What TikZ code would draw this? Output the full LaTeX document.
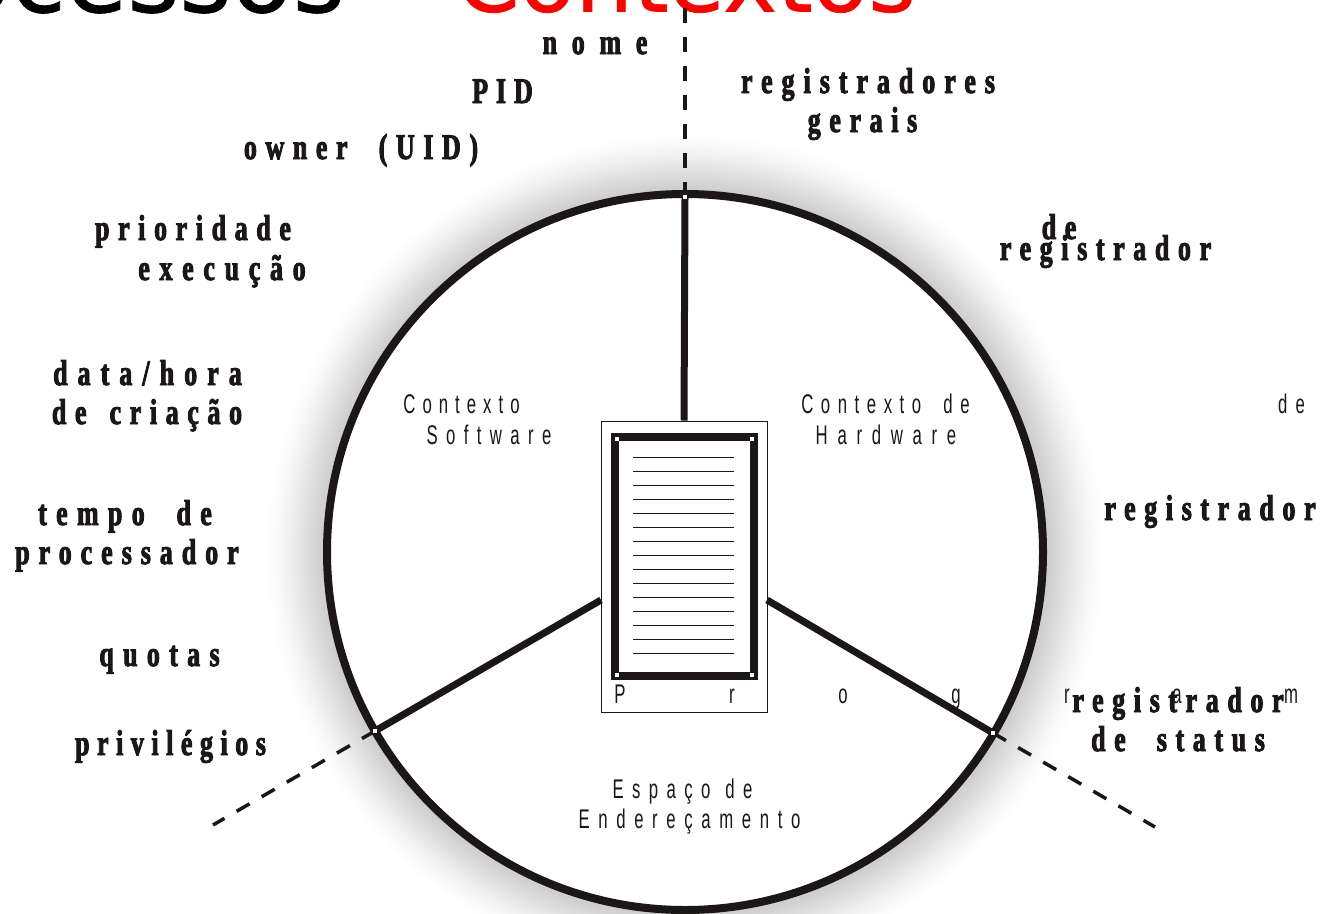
\documentclass[tikz,border=0pt]{standalone}
\usepackage{fontspec}
\newfontfamily\boldf[FakeStretch=0.72,LetterSpace=24,FakeBold=2.5]{Liberation Serif Bold}
\newfontfamily\thinf[FakeStretch=0.62,LetterSpace=31]{Liberation Sans}
\newfontfamily\titlef[FakeBold=0.8]{DejaVu Sans}
\definecolor{ink}{HTML}{1A1716}
\newcommand\wg{\hspace{16pt}}
\newcommand\lsp[1]{\addfontfeature{LetterSpace=#1}}
\pgfdeclareradialshading{halo}{\pgfpointorigin}{color(0bp)=(white);color(21bp)=(white);color(21.5bp)=(black!20);color(22.4bp)=(black!14);color(23.4bp)=(black!7);color(24.3bp)=(black!2);color(25bp)=(white);color(50bp)=(white)}
\tikzset{
 bl/.style={font=\boldf\fontsize{36}{36}\selectfont,text=ink,anchor=base,inner sep=0pt},
 tl/.style={font=\thinf\fontsize{27}{27}\selectfont,text=ink,anchor=base,inner sep=0pt},
 pl/.style={font=\thinf\fontsize{27}{27}\selectfont,text=ink,anchor=base,inner sep=0pt},
 spoke/.style={line width=7pt,draw=ink},
 dashline/.style={draw=ink,line width=3.5pt,dash pattern=on 15pt off 14pt},
 dot/.style={fill=white,draw=none,minimum size=5pt,inner sep=0pt,rectangle},
 rule/.style={draw=ink,line width=1pt},
}
\begin{document}
\begin{tikzpicture}[x=1pt,y=-1pt]
\useasboundingbox (0,0) rectangle (1321,913);
\clip (0,0) rectangle (1321,913);
\shade[shading=halo] (685,552) circle (420);
\coordinate (c) at (685,552);
% title
\node[font=\titlef\fontsize{91}{91}\selectfont,text=red,anchor=base,inner sep=0pt] (t2) at (686,11.5) {Contextos};
\node[font=\titlef\fontsize{100}{100}\selectfont,text=black,anchor=base east,inner sep=0pt] (t1) at (345,12) {Processos};
% dashed
\coordinate (jt) at (685,197);
\coordinate (jl) at (375,731);
\coordinate (jr) at (993,733);
\coordinate (et) at (685,8);
\coordinate (el) at (213,825);
\coordinate (er) at (1155,827);
\draw[dashline,line width=4pt] (jt) -- (et);
\draw[dashline] (jl) -- (el);
\draw[dashline] (jr) -- (er);
% circle
\node[draw=ink,line width=8pt,circle,minimum size=716pt,inner sep=0pt,fill=white] (wheel) at (c) {};
% hub
\node[draw=ink,line width=1pt,fill=white,minimum width=166pt,minimum height=291pt,inner sep=0pt] (prog) at (684,566.5) {};
\node[draw=ink,line width=8pt,minimum width=139pt,minimum height=239pt,inner sep=0pt] (page) at (684.5,556.5) {};
\foreach \i in {0,...,14}{\draw[rule] (633,457.3+14.03*\i) -- (734,457.3+14.03*\i);}
\node[dot,minimum size=4.5pt] (c1) at (617,439) {};
\node[dot,minimum size=4.5pt] (c2) at (752,439) {};
\node[dot,minimum size=4.5pt] (c3) at (617,675) {};
\node[dot,minimum size=4.5pt] (c4) at (752,675) {};
% spokes
\coordinate (sl) at (601,600);
\coordinate (sr) at (767,600);
\draw[spoke] (jt) -- (prog.north);
\draw[spoke] (jl) -- (sl);
\draw[spoke] (jr) -- (sr);
\node[dot,minimum size=4pt] (d1) at (jt) {};
\node[dot,minimum size=4pt] (d2) at (jl) {};
\node[dot,minimum size=4pt] (d3) at (jr) {};
% thin labels
\node[tl] (a1) at (461.5,413) {\lsp{26}Contexto};
\node[tl] (a2) at (489,444) {Software};
\node[tl] (a3) at (885.5,413) {\lsp{28}Contexto \hspace{10pt}de};
\node[tl] (a4) at (886,444) {\lsp{36}Hardware};
\node[tl] (a5) at (682.5,798) {Espaço \hspace{2pt}de};
\node[tl] (a6) at (689.5,828) {\lsp{32}Endereçamento};
\node[tl] (a7) at (1291.5,413) {de};
\node[pl] (p1) at (620,703) {P};
\node[pl] (p2) at (732,703) {r};
\node[pl] (p3) at (843,703) {o};
\node[pl] (p4) at (956,703) {g};
\node[pl] (p5) at (1067,703) {r};
\node[pl] (p6) at (1177,703) {a};
\node[pl] (p7) at (1291,703) {m};
% bold labels
\node[bl] (b1) at (595,54) {\lsp{41}nome};
\node[bl] (b2) at (502.5,103) {\lsp{22}PID};
\node[bl] (b3) at (361,159) {owner \wg(UID)};
\node[bl] (b4) at (193,240) {prioridade};
\node[bl] (b5) at (222,280) {\lsp{27}execução};
\node[bl] (b6) at (147.5,385) {\lsp{28}data/hora};
\node[bl] (b7) at (147,424) {de \hspace{8pt}criação};
\node[bl] (b8) at (125,525) {\lsp{26}tempo \wg de};
\node[bl] (b9) at (127,564) {\lsp{25}processador};
\node[bl] (b10) at (159.5,666) {\lsp{26}quotas};
\node[bl] (b11) at (170.5,755) {\lsp{21}privilégios};
\node[bl] (b12) at (868,93) {\lsp{25}registradores};
\node[bl] (b13) at (862.5,132) {gerais};
\node[bl] (b14) at (1059,239) {de};
\node[bl] (b15) at (1105.5,260) {registrador};
\node[bl] (b16) at (1210,520) {registrador};
\node[bl] (b17) at (1178,712) {registrador};
\node[bl] (b18) at (1178,751) {de \wg status};
\end{tikzpicture}
\end{document}
